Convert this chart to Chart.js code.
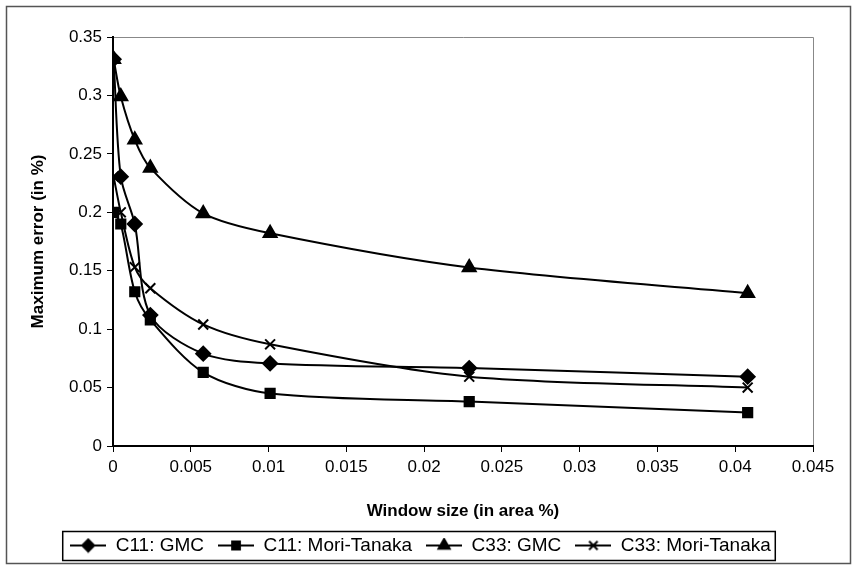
<!DOCTYPE html>
<html>
<head>
<meta charset="utf-8">
<script src="https://cdn.jsdelivr.net/npm/chart.js@4.4.1/dist/chart.umd.min.js"></script>
<style>
  html, body { margin: 0; padding: 0; background: #fff; }
  #wrap { width: 857px; height: 569px; }
</style>
</head>
<body>
<div id="wrap"><canvas id="chart" width="857" height="569"></canvas></div>
<script>
const windowSizes = [0.00004, 0.0005, 0.0014, 0.0024, 0.0058, 0.0101, 0.0229, 0.0408];
const c11Gmc = [0.331, 0.2305, 0.19, 0.112, 0.079, 0.0707, 0.0667, 0.0593];
const c11Mori = [0.2, 0.19, 0.132, 0.108, 0.063, 0.045, 0.038, 0.0286];
const c33Gmc = [0.331, 0.299, 0.262, 0.238, 0.199, 0.182, 0.1527, 0.1308];
const c33Mori = [0.2305, 0.2, 0.153, 0.135, 0.104, 0.087, 0.0593, 0.050];
const seriesNames = ["C11: GMC", "C11: Mori-Tanaka", "C33: GMC", "C33: Mori-Tanaka"];
const markers = ["rectRot", "rect", "triangle", "crossRot"];
const markerSizes = [7, 6.5, 7.5, 7];

const FONT = "'Liberation Sans', Arial, sans-serif";

function toPoints(vals) {
  return vals.map((v, i) => ({ x: windowSizes[i], y: v }));
}

// little line + marker image for the legend entries
function legendSymbol(style, r) {
  const c = document.createElement("canvas");
  c.width = 36; c.height = 16;
  const ctx = c.getContext("2d");
  ctx.strokeStyle = "#000";
  ctx.fillStyle = "#000";
  ctx.lineWidth = 2;
  ctx.beginPath();
  ctx.moveTo(0, 8); ctx.lineTo(36, 8);
  ctx.stroke();
  Chart.helpers.drawPoint(ctx, { pointStyle: style, radius: r - 1, borderWidth: 2 }, 18, 8);
  if (style !== "crossRot") ctx.fill();
  return c;
}

const allSeries = [c11Gmc, c11Mori, c33Gmc, c33Mori];
const datasets = allSeries.map((vals, i) => ({
  label: seriesNames[i],
  data: toPoints(vals),
  borderColor: "#000",
  backgroundColor: "#000",
  borderWidth: 2,
  pointStyle: markers[i],
  pointRadius: markerSizes[i],
  pointBorderWidth: 2,
  tension: 0.3,
  showLine: true
}));

const framePlugin = {
  id: "frame",
  beforeDraw(chart) {
    const ctx = chart.ctx;
    ctx.save();
    ctx.fillStyle = "#fff";
    ctx.fillRect(0, 0, chart.width, chart.height);
    ctx.strokeStyle = "#555";
    ctx.lineWidth = 1.5;
    ctx.strokeRect(6.5, 6.5, 844, 557);
    const a = chart.chartArea;
    ctx.strokeStyle = "#888";
    ctx.lineWidth = 1;
    ctx.beginPath();
    ctx.moveTo(a.left, a.top + 0.5);
    ctx.lineTo(a.right + 0.5, a.top + 0.5);
    ctx.lineTo(a.right + 0.5, a.bottom);
    ctx.stroke();
    ctx.restore();
  },
  afterDraw(chart) {
    const boxes = chart.legend.legendHitBoxes;
    if (!boxes || !boxes.length) return;
    const ctx = chart.ctx;
    const left = boxes[0].left - 8;
    const right = boxes[boxes.length - 1].left + boxes[boxes.length - 1].width + 4;
    const top = boxes[0].top - 5;
    const bottom = boxes[0].top + boxes[0].height + 5;
    ctx.save();
    ctx.strokeStyle = "#000";
    ctx.lineWidth = 1.5;
    ctx.strokeRect(left + 0.5, top + 0.5, right - left, bottom - top);
    ctx.restore();
  }
};

new Chart(document.getElementById("chart"), {
  type: "scatter",
  data: { datasets },
  plugins: [framePlugin],
  options: {
    responsive: false,
    animation: false,
    layout: { padding: { left: 28, right: 44, top: 37, bottom: 4 } },
    plugins: {
      tooltip: { enabled: false },
      legend: {
        position: "bottom",
        labels: {
          usePointStyle: true,
          pointStyleWidth: 36,
          padding: 14,
          color: "#000",
          font: { family: FONT, size: 19 },
          generateLabels(chart) {
            return chart.data.datasets.map((ds, i) => ({
              text: ds.label,
              pointStyle: legendSymbol(markers[i], markerSizes[i]),
              fillStyle: "#000",
              strokeStyle: "#000",
              lineWidth: 0,
              hidden: false,
              datasetIndex: i,
              fontColor: "#000"
            }));
          }
        }
      }
    },
    scales: {
      x: {
        type: "linear",
        min: 0,
        max: 0.045,
        afterFit(scale) { scale.height = 76; },
        ticks: {
          stepSize: 0.005,
          color: "#000",
          font: { family: FONT, size: 17 },
          padding: 5,
          maxRotation: 0,
          callback: v => String(+v.toFixed(3))
        },
        grid: { drawOnChartArea: false, drawTicks: true, tickLength: 6, color: "#000" },
        border: { color: "#000", width: 2 },
        title: {
          display: true,
          text: "Window size (in area %)",
          color: "#000",
          font: { family: FONT, size: 17, weight: "bold" },
          padding: { top: 4, bottom: 0 }
        }
      },
      y: {
        min: 0,
        max: 0.35,
        afterFit(scale) { scale.width = 85; },
        ticks: {
          stepSize: 0.05,
          color: "#000",
          font: { family: FONT, size: 17 },
          padding: 5,
          callback: v => String(+v.toFixed(2))
        },
        grid: { drawOnChartArea: false, drawTicks: true, tickLength: 6, color: "#000" },
        border: { color: "#000", width: 2 },
        title: {
          display: true,
          text: "Maximum error (in %)",
          color: "#000",
          font: { family: FONT, size: 17, weight: "bold" },
          padding: { top: 0, bottom: 8 }
        }
      }
    }
  }
});
</script>
</body>
</html>
